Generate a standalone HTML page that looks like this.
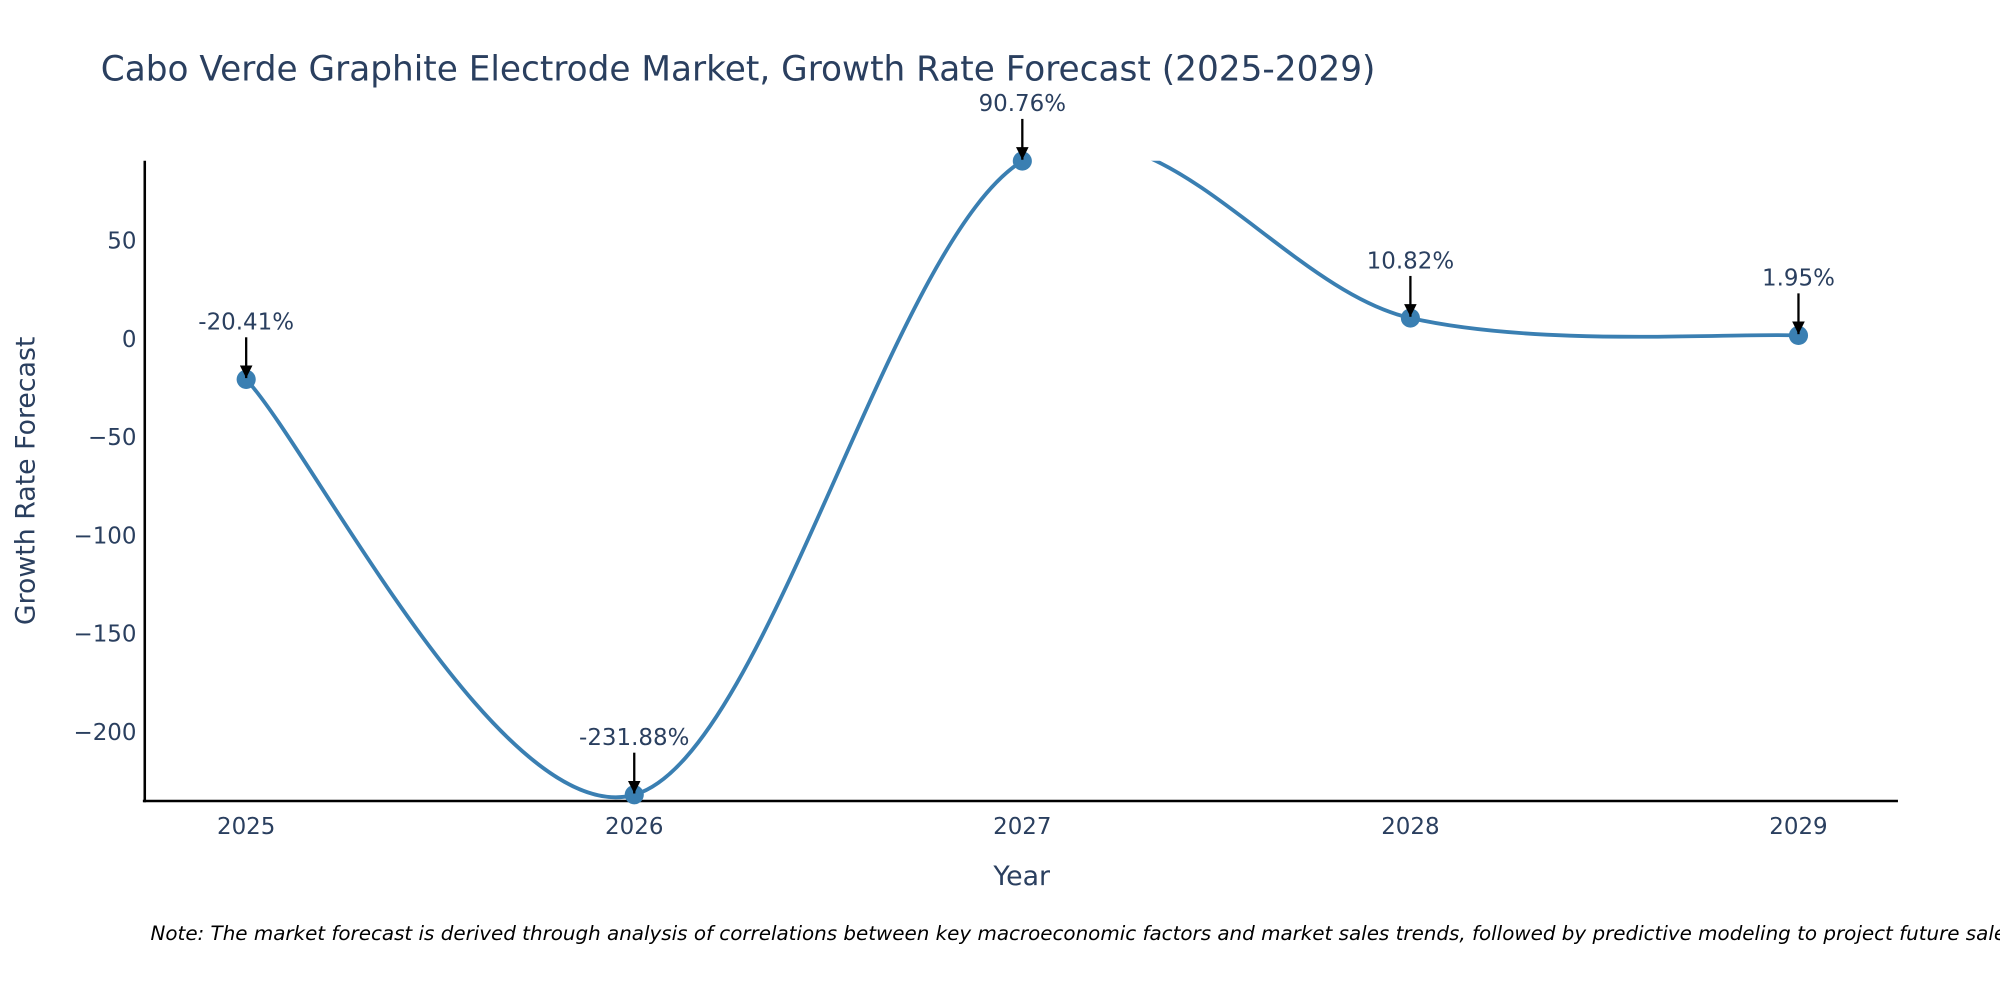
<!DOCTYPE html>
<html><head><meta charset="utf-8"><style>
html,body{margin:0;padding:0;background:#fff;width:2000px;height:1000px;overflow:hidden}
text{font-family:"DejaVu Sans","Liberation Sans",sans-serif;fill:#2a3f5f}
</style></head><body>
<svg id="chart" width="2000" height="1000" viewBox="0 0 1568 784" xmlns="http://www.w3.org/2000/svg">
<defs>
<clipPath id="plotclip"><rect x="113" y="126" width="1375" height="502"/></clipPath>
<marker id="ah" viewBox="0 0 10 10" refX="10" refY="5" markerWidth="5.5" markerHeight="5.5" markerUnits="strokeWidth" orient="auto"><path d="M0,0 L10,5 L0,10 z" fill="#000"/></marker>
</defs>
<text x="79" y="63" font-size="26.9">Cabo Verde Graphite Electrode Market, Growth Rate Forecast (2025-2029)</text>
<g id="yticks"></g><g id="xticks"></g>
<line x1="113.5" y1="126" x2="113.5" y2="629" stroke="#000" stroke-width="2"/>
<line x1="112" y1="628" x2="1488" y2="628" stroke="#000" stroke-width="2"/>
<g id="series" clip-path="url(#plotclip)"></g>
<g id="marks"></g>
<g id="annots"></g>
<text x="801" y="694" font-size="21" text-anchor="middle">Year</text>
<text x="0" y="0" font-size="21" text-anchor="middle" transform="translate(27,377) rotate(-90)">Growth Rate Forecast</text>
<text x="118" y="737" font-size="15.6" font-style="italic" style="fill:#000">Note: The market forecast is derived through analysis of correlations between key macroeconomic factors and market sales trends, followed by predictive modeling to project future sales.</text>
</svg>
<script>
const years = [2025, 2026, 2027, 2028, 2029];
const growth = [-20.41, -231.88, 90.76, 10.82, 1.95];
const labels = ["-20.41%", "-231.88%", "90.76%", "10.82%", "1.95%"];
const yTickValues = [50, 0, -50, -100, -150, -200];
const yTickLabels = ["50", "0", "\u221250", "\u2212100", "\u2212150", "\u2212200"];

const NS = "http://www.w3.org/2000/svg";
function xs(v){ return 193 + (v - 2025) * 304.25; }
function ys(v){ return 266 - v * 1.54; }
function mk(tag, attrs, parent){
  const e = document.createElementNS(NS, tag);
  for (const k in attrs) e.setAttribute(k, attrs[k]);
  parent.appendChild(e); return e;
}
const yt = document.getElementById('yticks');
yTickValues.forEach((v,i)=>{
  const t = mk('text', {x:107, y:ys(v)+6, 'font-size':18, 'text-anchor':'end'}, yt);
  
  
  t.textContent = yTickLabels[i];
});
const xt = document.getElementById('xticks');
years.forEach(y=>{
  const t = mk('text', {x:xs(y), y:654, 'font-size':18, 'text-anchor':'middle'}, xt);
  
  
  t.textContent = String(y);
});
const pts = years.map((y,i)=>[xs(y), ys(growth[i])]);
let d = `M${pts[0][0]},${pts[0][1]}`;
const s = 0.17;
for (let i=0;i<pts.length-1;i++){
  const p0 = pts[Math.max(i-1,0)], p1 = pts[i], p2 = pts[i+1], p3 = pts[Math.min(i+2,pts.length-1)];
  const c1 = [p1[0]+(p2[0]-p0[0])*s, p1[1]+(p2[1]-p0[1])*s];
  const c2 = [p2[0]-(p3[0]-p1[0])*s, p2[1]-(p3[1]-p1[1])*s];
  d += ` C${c1[0]},${c1[1]} ${c2[0]},${c2[1]} ${p2[0]},${p2[1]}`;
}
const line = mk('path', {d:d, fill:'none', stroke:'#3a7fb2', 'stroke-width':3}, document.getElementById('series'));


const mg = document.getElementById('marks');
const ag = document.getElementById('annots');
pts.forEach((p,i)=>{
  const c = mk('circle', {cx:p[0], cy:p[1], r:7.5, fill:'#3a7fb2'}, mg);
  
  
  const a = mk('line', {x1:p[0], y1:p[1]-33, x2:p[0], y2:p[1]-1, stroke:'#000', 'stroke-width':1.8, 'marker-end':'url(#ah)'}, ag);
  
  
  const t = mk('text', {x:p[0], y:p[1]-39, 'font-size':18, 'text-anchor':'middle'}, ag);
  
  
  t.textContent = labels[i];
});
</script>
</body></html>
